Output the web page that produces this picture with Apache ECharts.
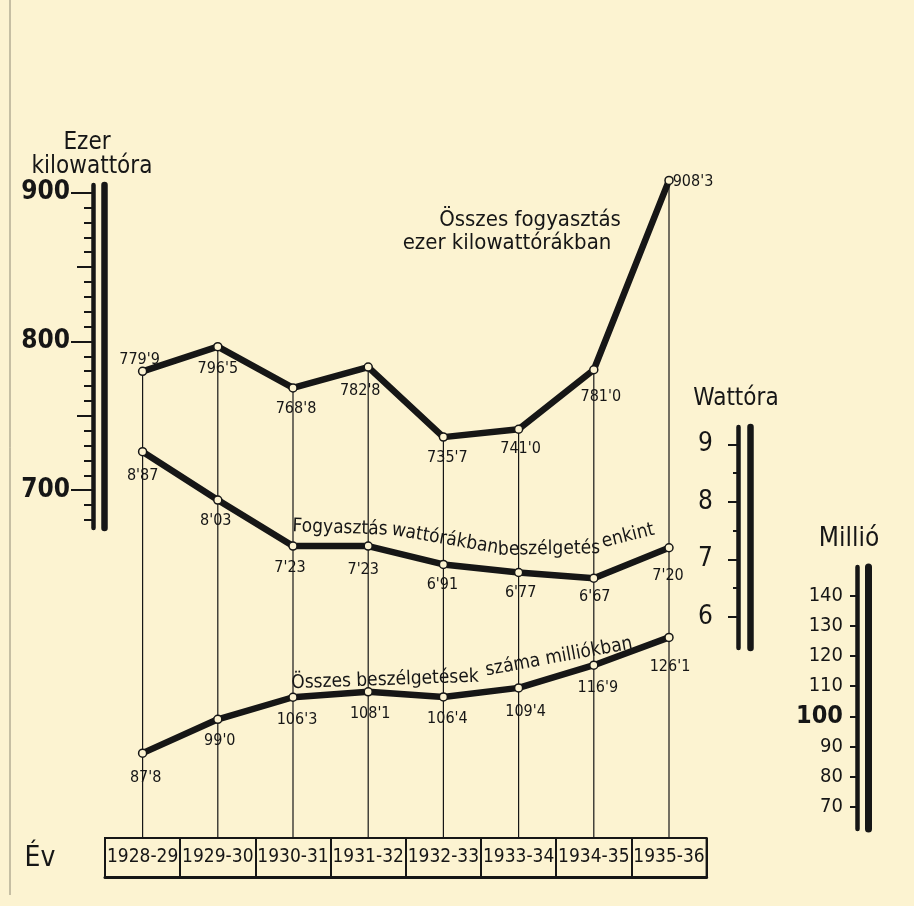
<!DOCTYPE html>
<html>
<head>
<meta charset="utf-8">
<script src="https://cdn.jsdelivr.net/npm/echarts@6/dist/echarts.min.js"></script>
<style>
html,body{margin:0;padding:0;background:#fcf3d1;}
#chart{width:914px;height:906px;}
</style>
</head>
<body>
<div id="chart"></div>
<script>
// ---- data ----
const categories = ['1928-29','1929-30','1930-31','1931-32','1932-33','1933-34','1934-35','1935-36'];
const totalKwh = [779.9, 796.5, 768.8, 782.8, 735.7, 741.0, 781.0, 908.3];
const whPerCall = [8.87, 8.03, 7.23, 7.23, 6.91, 6.77, 6.67, 7.20];
const callsMillion = [87.8, 99.0, 106.3, 108.1, 106.4, 109.4, 116.9, 126.1];

// ---- tick labels ----
const kwhMajorTicks = [700, 800, 900];
const kwhMidTicks = [750, 850];
const kwhMinorTicks = [680, 690, 710, 720, 730, 740, 760, 770, 780, 790, 810, 820, 830, 840, 860, 870, 880, 890];
const whMajorTicks = [6, 7, 8, 9];
const whMinorTicks = [6.5, 7.5, 8.5];
const callTicks = [70, 80, 90, 100, 110, 120, 130, 140];

// ---- label placement (layout only) ----
const kwhLabelOffsets = [[-3,-12],[0,22],[3,21],[-8,24],[4,21],[2,20],[7,27],[24,1]];
const whLabelOffsets = [[0,24],[-2,21],[-3,22],[-5,24],[-1,20],[2,20],[1,19],[-1,28]];
const callLabelOffsets = [[3,25],[2,22],[4,23],[2,22],[4,22],[7,24],[4,23],[1,29]];

const INK = '#161616';
const PAPER = '#fcf3d1';
const COND = "'DejaVu Sans Condensed', sans-serif";
const TABLE_TOP = 838;
const GL = 105, GW = 601.6;

function fmt(v, d) { return v.toFixed(d).replace('.', "'"); }

function yAx(grid, min, max, offset, o) {
  return Object.assign({
    type: 'value', gridIndex: grid, min: min, max: max, position: 'left', offset: offset,
    splitLine: { show: false },
    axisLine: { show: false, onZero: false },
    axisTick: { show: false },
    axisLabel: { show: false }
  }, o);
}

const yAxes = [
  // grid 0 : Ezer kilowattóra
  yAx(0, 674.6, 905.2, 12, {
    axisLine: { show: true, onZero: false, lineStyle: { color: INK, width: 4.5 } },
    axisTick: { show: true, customValues: kwhMinorTicks, length: 9, lineStyle: { color: INK, width: 2 } }
  }),
  yAx(0, 674.6, 905.2, 12, {
    axisTick: { show: true, customValues: kwhMidTicks, length: 16, lineStyle: { color: INK, width: 2 } }
  }),
  yAx(0, 674.6, 905.2, 12, {
    axisTick: { show: true, customValues: kwhMajorTicks, length: 22, lineStyle: { color: INK, width: 2 } },
    axisLabel: { show: true, customValues: kwhMajorTicks, margin: 23, fontSize: 26, fontWeight: 'bold', fontFamily: COND, color: INK }
  }),
  yAx(0, 674.6, 905.2, 1, {
    axisLine: { show: true, onZero: false, lineStyle: { color: INK, width: 6.5 } }
  }),
  // grid 1 : Wattóra
  yAx(1, 5.457, 9.30, -633, {
    axisLine: { show: true, onZero: false, lineStyle: { color: INK, width: 4.5 } },
    axisTick: { show: true, customValues: whMajorTicks, length: 10, lineStyle: { color: INK, width: 2 } },
    axisLabel: { show: true, customValues: whMajorTicks, margin: 25, fontSize: 26, fontFamily: COND, color: INK }
  }),
  yAx(1, 5.457, 9.30, -633, {
    axisTick: { show: true, customValues: whMinorTicks, length: 5, lineStyle: { color: INK, width: 2 } }
  }),
  yAx(1, 5.457, 9.30, -645, {
    axisLine: { show: true, onZero: false, lineStyle: { color: INK, width: 6.5 } }
  }),
  // grid 2 : Millió
  yAx(2, 62.7, 149.4, -752, {
    axisLine: { show: true, onZero: false, lineStyle: { color: INK, width: 4.5 } },
    axisTick: { show: true, customValues: callTicks, length: 7, lineStyle: { color: INK, width: 2 } },
    axisLabel: {
      show: true, customValues: callTicks, margin: 14, fontSize: 20, fontFamily: COND, color: INK,
      formatter: v => (v === 100 ? '{b|100}' : String(v)),
      rich: { b: { fontSize: 25, fontWeight: 'bold', fontFamily: COND, color: INK } }
    }
  }),
  yAx(2, 62.7, 149.4, -763.5, {
    axisLine: { show: true, onZero: false, lineStyle: { color: INK, width: 7 } }
  }),
  // grid 3 : table (hidden value axis)
  { type: 'value', gridIndex: 3, show: false }
];

const hiddenX = g => ({ type: 'category', gridIndex: g, data: categories, boundaryGap: true, show: false });

function lineSeries(xi, yi, values, offsets, dec) {
  return {
    type: 'line', xAxisIndex: xi, yAxisIndex: yi, z: 3,
    data: values.map((v, i) => ({ value: v, label: { offset: offsets[i] } })),
    clip: false, silent: true, animation: false,
    symbol: 'circle', symbolSize: 8, showAllSymbol: true,
    lineStyle: { color: INK, width: 6.5, join: 'round' },
    itemStyle: { color: PAPER, borderColor: INK, borderWidth: 1.5 },
    label: {
      show: true, position: 'inside', fontSize: 16, fontFamily: COND, color: INK,
      formatter: p => fmt(p.value, dec)
    },
    emphasis: { disabled: true }
  };
}

const texts = [
  { t: 'Ezer', x: 87, y: 143, s: 24, r: 0 },
  { t: 'kilowattóra', x: 92, y: 167, s: 24, r: 0 },
  { t: 'Wattóra', x: 736, y: 399, s: 24, r: 0 },
  { t: 'Millió', x: 849, y: 539, s: 26, r: 0 },
  { t: 'Év', x: 40, y: 859, s: 28, r: 0 },
  { t: 'Összes fogyasztás', x: 530, y: 220, s: 22, r: 0 },
  { t: 'ezer kilowattórákban', x: 507, y: 243, s: 22, r: 0 },
  { t: 'Fogyasztás', x: 340, y: 528, s: 19, r: -2 },
  { t: 'wattórákban', x: 445, y: 539, s: 19, r: -10 },
  { t: 'beszélgetés', x: 549, y: 549, s: 19, r: 1 },
  { t: 'enkint', x: 628, y: 536, s: 19, r: 14 },
  { t: 'Összes beszélgetések', x: 385, y: 680, s: 19, r: 2 },
  { t: 'száma milliókban', x: 559, y: 657, s: 19, r: 10.5 }
];

const option = {
  backgroundColor: PAPER,
  animation: false,
  grid: [
    { left: GL, width: GW, top: 185, height: 343 },
    { left: GL, width: GW, top: 427, height: 221 },
    { left: GL, width: GW, top: 567, height: 262 },
    { left: GL, width: GW, top: TABLE_TOP, height: 39, show: true, borderColor: INK, borderWidth: 2 }
  ],
  xAxis: [
    hiddenX(0), hiddenX(1), hiddenX(2),
    {
      type: 'category', gridIndex: 3, data: categories, boundaryGap: true,
      axisLine: { show: true, lineStyle: { color: INK, width: 3 } },
      axisTick: { show: false },
      splitLine: { show: true, interval: 0, lineStyle: { color: INK, width: 2 } },
      axisLabel: { inside: true, interval: 0, margin: 20, verticalAlign: 'middle', fontSize: 19, fontFamily: COND, color: INK }
    }
  ],
  yAxis: yAxes,
  series: [
    {
      type: 'custom', xAxisIndex: 0, yAxisIndex: 0, z: 1, clip: false, silent: true,
      data: totalKwh.map((v, i) => [i, v]),
      renderItem: (params, api) => {
        const p = api.coord([api.value(0), api.value(1)]);
        return { type: 'line', shape: { x1: p[0], y1: p[1], x2: p[0], y2: TABLE_TOP }, style: { stroke: INK, lineWidth: 1.2 } };
      }
    },
    lineSeries(0, 0, totalKwh, kwhLabelOffsets, 1),
    lineSeries(1, 4, whPerCall, whLabelOffsets, 2),
    lineSeries(2, 7, callsMillion, callLabelOffsets, 1)
  ],
  graphic: [
    { type: 'line', shape: { x1: 10, y1: 0, x2: 10, y2: 895 }, style: { stroke: '#8f8a76', lineWidth: 1 }, silent: true }
  ].concat(texts.map(a => ({
    type: 'text', x: a.x, y: a.y, rotation: a.r * Math.PI / 180, silent: true,
    style: { text: a.t, fontSize: a.s, fontFamily: COND, fill: INK, align: 'center', verticalAlign: 'middle' }
  })))
};

const chart = echarts.init(document.getElementById('chart'), null, { renderer: 'canvas' });
chart.setOption(option);
</script>
</body>
</html>
